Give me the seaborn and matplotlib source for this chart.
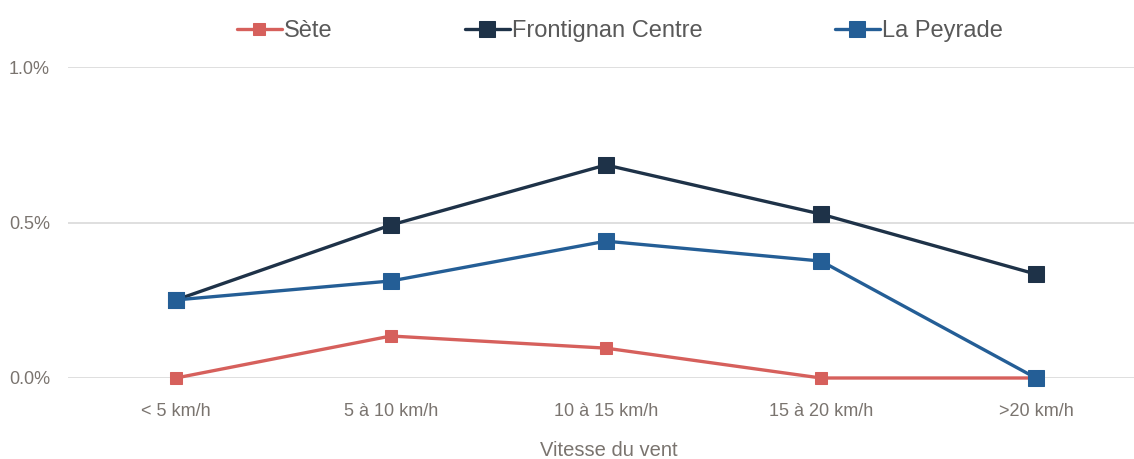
import matplotlib
matplotlib.use("Agg")
import matplotlib.pyplot as plt
from matplotlib import font_manager
import seaborn as sns
import pandas as pd

categories = ["< 5 km/h", "5 à 10 km/h", "10 à 15 km/h", "15 à 20 km/h", ">20 km/h"]
sete = [0.0, 0.135, 0.096, 0.0, 0.0]
frontignan = [0.251, 0.492, 0.685, 0.527, 0.334]
peyrade = [0.251, 0.312, 0.440, 0.376, 0.0]
yticks = [0.0, 0.5, 1.0]
ytick_labels = ["0.0%", "0.5%", "1.0%"]

sns.set_theme(style="white")
names = {f.name for f in font_manager.fontManager.ttflist}
fam = "Liberation Sans Narrow" if "Liberation Sans Narrow" in names else "Liberation Sans"
plt.rcParams["font.family"] = [fam, "DejaVu Sans"]

fig = plt.figure(figsize=(11.34, 4.59), dpi=100)
ax = fig.add_axes([68 / 1134, 1 - 378 / 459, (1134 - 68) / 1134, (378 - 67) / 459])

series = [
    ("Sète", sete, "#D6605C", 9),
    ("Frontignan Centre", frontignan, "#1E3248", 12),
    ("La Peyrade", peyrade, "#245E96", 12),
]
x = list(range(len(categories)))
for name, vals, color, ms in series:
    df = pd.DataFrame({"x": x, "y": vals})
    sns.lineplot(data=df, x="x", y="y", ax=ax, color=color, marker="s",
                 markersize=ms, linewidth=2.4, markeredgecolor=color,
                 label=name, clip_on=False, zorder=3)

ax.set_xlim(-0.502, 4.456)
ax.set_ylim(0, 1.0)
ax.set_xticks(x)
ax.set_xticklabels(categories)
ax.set_yticks(yticks)
ax.set_yticklabels(ytick_labels)
ax.yaxis.grid(True, color="#D9D9D9", linewidth=1.2)
ax.set_axisbelow(True)
for s in ax.spines.values():
    s.set_visible(False)
ax.tick_params(axis="both", length=0, labelsize=13, colors="#7A746F")
ax.tick_params(axis="x", pad=18)
ax.tick_params(axis="y", pad=13)
ax.set_xlabel("Vitesse du vent", fontsize=14.5, color="#7A746F")
ax.set_ylabel("")
ax.xaxis.set_label_coords(609 / 1134, 3 / 459, transform=fig.transFigure)
ax.xaxis.label.set_va("baseline")

leg = ax.legend(loc="upper center", bbox_to_anchor=(620 / 1134, 1.0), bbox_transform=fig.transFigure,
                ncol=3, frameon=False, fontsize=17, handlelength=1.9, handletextpad=0.1,
                columnspacing=5.6, borderaxespad=0.45)
for t in leg.get_texts():
    t.set_color("#595959")

fig.savefig("out.png", dpi=100)
